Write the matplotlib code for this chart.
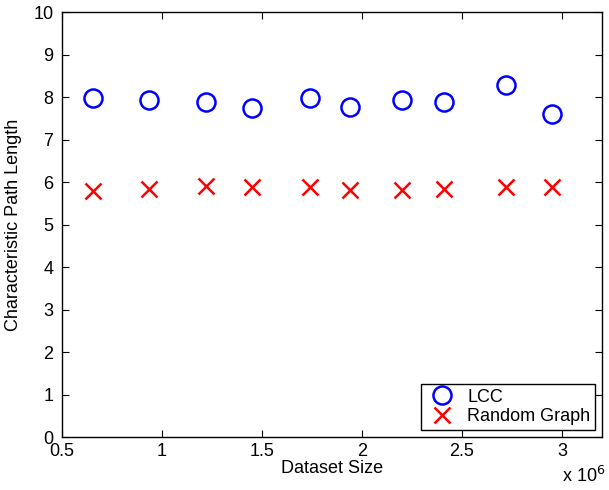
import matplotlib
matplotlib.use("Agg")
import matplotlib.pyplot as plt
from matplotlib.ticker import FuncFormatter

plt.rcParams['font.family'] = ['Liberation Sans', 'DejaVu Sans']

dataset_size = [655000, 935000, 1220000, 1450000, 1740000,
                1940000, 2200000, 2410000, 2720000, 2950000]
lcc = [7.97, 7.93, 7.88, 7.75, 7.98, 7.77, 7.93, 7.89, 8.28, 7.60]
random_graph = [5.80, 5.83, 5.91, 5.89, 5.89, 5.82, 5.82, 5.84, 5.88, 5.88]

fig = plt.figure(figsize=(6.09, 4.9), dpi=100)
ax = fig.add_axes([0.1015, 0.108, 0.887, 0.8675])

ax.plot(dataset_size, lcc, linestyle='none', marker='o', markersize=13,
        markerfacecolor='none', markeredgecolor='#0000ff', markeredgewidth=1.8,
        label='LCC')
ax.plot(dataset_size, random_graph, linestyle='none', marker='x', markersize=11,
        markeredgecolor='#ff0000', markeredgewidth=1.8, label='Random Graph')

ax.set_xlim(0.5e6, 3.2e6)
ax.set_ylim(0, 10)
ax.set_xticks([0.5e6, 1e6, 1.5e6, 2e6, 2.5e6, 3e6])
ax.set_yticks(range(0, 11))
ax.xaxis.set_major_formatter(FuncFormatter(lambda v, p: '%g' % (v / 1e6)))

ax.tick_params(direction='in', top=True, right=True, length=5, width=0.8,
               labelsize=13)
ax.tick_params(axis='x', pad=4)
ax.tick_params(axis='y', pad=6)
for s in ax.spines.values():
    s.set_linewidth(1.0)

ax.set_xlabel('Dataset Size', fontsize=13, labelpad=0)
ax.set_ylabel('Characteristic Path Length', fontsize=13, labelpad=8)
fig.text(0.958, 0.008, r'x 10$^6$', fontsize=13, ha='center', va='bottom')

leg = ax.legend(loc='lower right', fontsize=13, fancybox=False, framealpha=1,
                edgecolor='black', borderaxespad=0.4, handletextpad=0.5,
                borderpad=0.25, labelspacing=0.15, handlelength=1.8)
leg.get_frame().set_linewidth(1.0)

fig.savefig('out.png', dpi=100)
